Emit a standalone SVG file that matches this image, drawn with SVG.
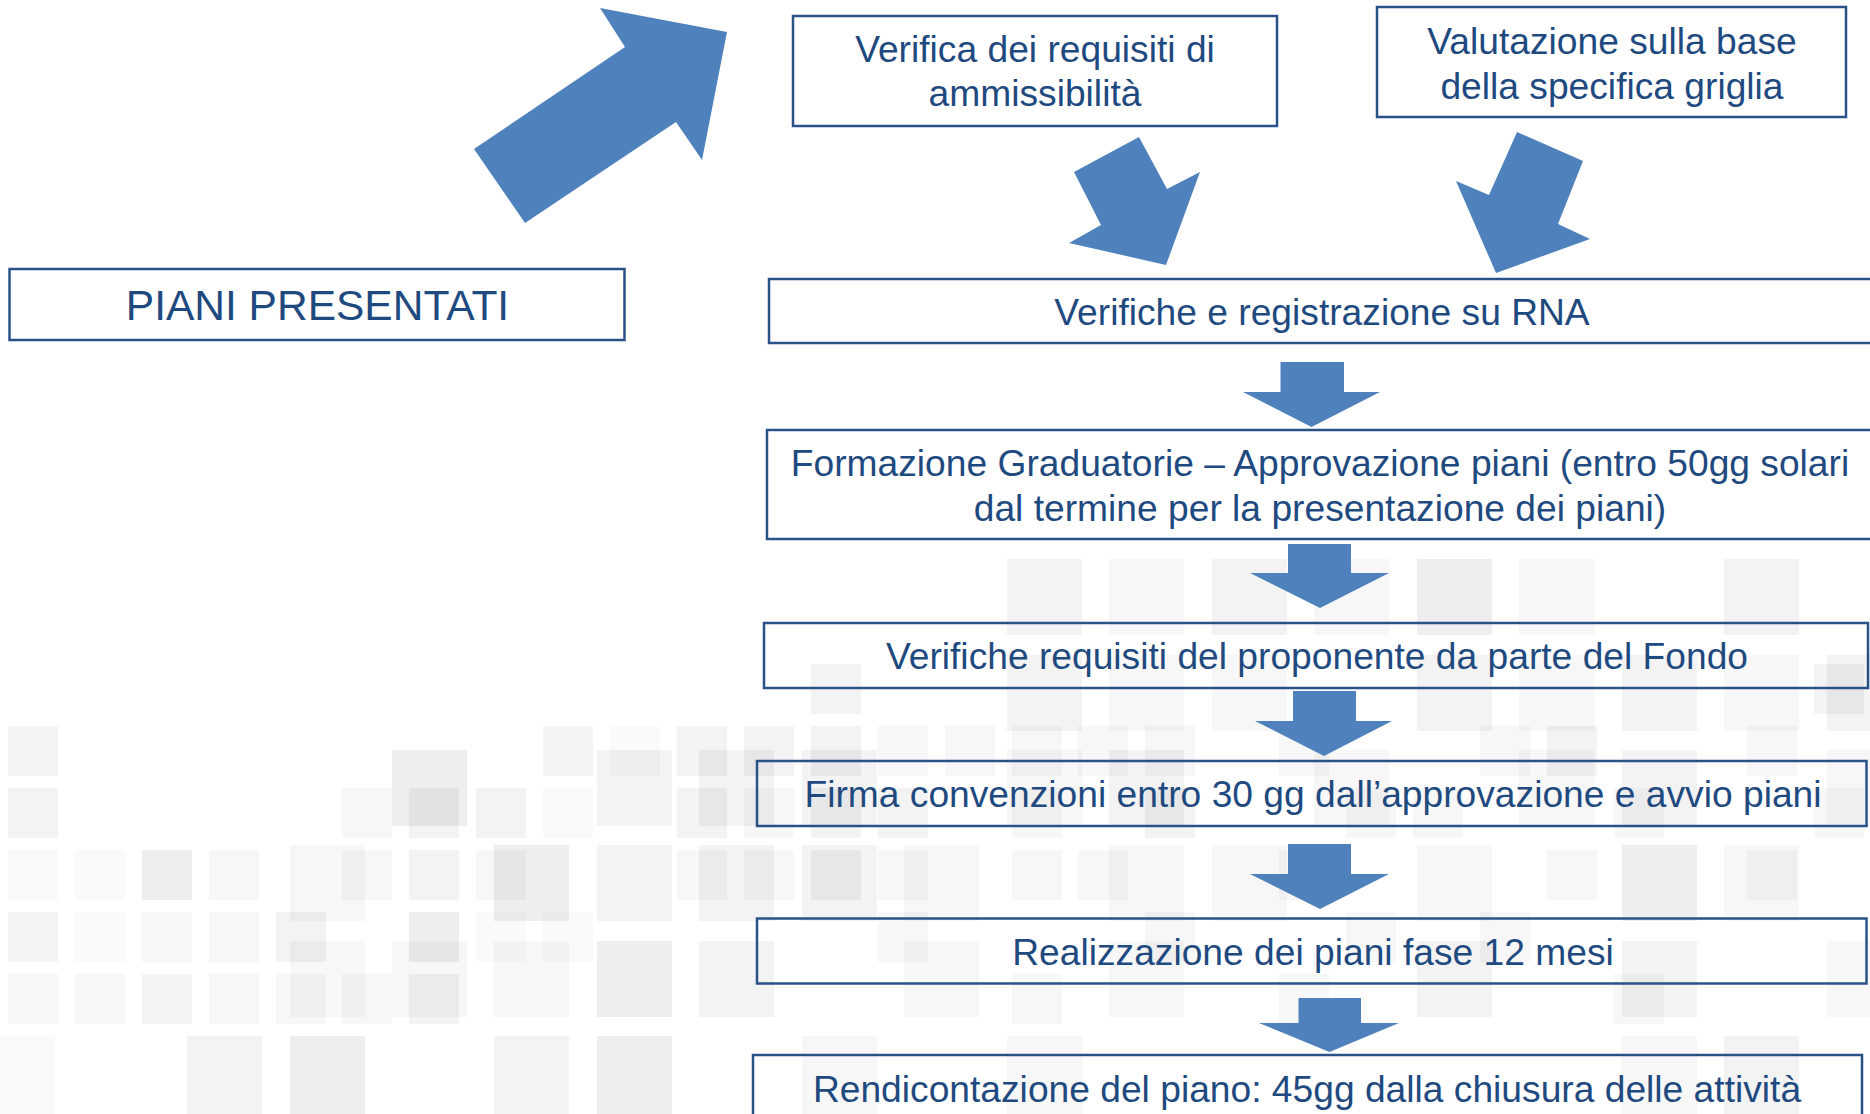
<svg xmlns="http://www.w3.org/2000/svg" width="1870" height="1114" viewBox="0 0 1870 1114">
<defs>
<style>
.bg{fill:#ffffff}
.b1{fill:#000;fill-opacity:.065}
.b2{fill:#000;fill-opacity:.048}
.b3{fill:#000;fill-opacity:.032}
.b4{fill:#000;fill-opacity:.018}
.box{fill:none;stroke:#2A5288;stroke-width:2.5}
.t{font-family:"Liberation Sans",Arial,sans-serif;font-size:37.2px;fill:#1F4A7F;text-anchor:middle}
.tb{font-size:42.5px}
.arr{fill:#4F81BD}
</style>
</defs>
<rect class="bg" x="0" y="0" width="1870" height="1114"/>
<g id="background">
<g id="big">
<rect class="b2" x="1007" y="559" width="75" height="76"/>
<rect class="b3" x="1109" y="559" width="75" height="76"/>
<rect class="b2" x="1212" y="559" width="75" height="76"/>
<rect class="b3" x="1314" y="559" width="75" height="76"/>
<rect class="b1" x="1417" y="559" width="75" height="76"/>
<rect class="b3" x="1519" y="559" width="75" height="76"/>
<rect class="b2" x="1724" y="559" width="75" height="76"/>
<rect class="b2" x="1007" y="655" width="75" height="76"/>
<rect class="b3" x="1109" y="655" width="75" height="76"/>
<rect class="b3" x="1212" y="655" width="75" height="76"/>
<rect class="b2" x="1417" y="655" width="75" height="76"/>
<rect class="b3" x="1519" y="655" width="75" height="76"/>
<rect class="b2" x="1622" y="655" width="75" height="76"/>
<rect class="b3" x="1724" y="655" width="75" height="76"/>
<rect class="b2" x="1827" y="655" width="75" height="76"/>
<rect class="b1" x="392" y="750" width="75" height="76"/>
<rect class="b2" x="597" y="750" width="75" height="76"/>
<rect class="b2" x="699" y="750" width="75" height="76"/>
<rect class="b2" x="802" y="750" width="75" height="76"/>
<rect class="b3" x="1007" y="750" width="75" height="76"/>
<rect class="b2" x="1109" y="750" width="75" height="76"/>
<rect class="b3" x="1314" y="750" width="75" height="76"/>
<rect class="b3" x="1519" y="750" width="75" height="76"/>
<rect class="b2" x="1622" y="750" width="75" height="76"/>
<rect class="b3" x="1827" y="750" width="75" height="76"/>
<rect class="b3" x="290" y="845" width="75" height="76"/>
<rect class="b1" x="494" y="845" width="75" height="76"/>
<rect class="b2" x="597" y="845" width="75" height="76"/>
<rect class="b2" x="699" y="845" width="75" height="76"/>
<rect class="b2" x="802" y="845" width="75" height="76"/>
<rect class="b3" x="904" y="845" width="75" height="76"/>
<rect class="b3" x="1109" y="845" width="75" height="76"/>
<rect class="b3" x="1212" y="845" width="75" height="76"/>
<rect class="b3" x="1417" y="845" width="75" height="76"/>
<rect class="b1" x="1622" y="845" width="75" height="76"/>
<rect class="b3" x="1724" y="845" width="75" height="76"/>
<rect class="b3" x="290" y="941" width="75" height="76"/>
<rect class="b3" x="392" y="941" width="75" height="76"/>
<rect class="b3" x="494" y="941" width="75" height="76"/>
<rect class="b1" x="597" y="941" width="75" height="76"/>
<rect class="b2" x="699" y="941" width="75" height="76"/>
<rect class="b3" x="904" y="941" width="75" height="76"/>
<rect class="b3" x="1109" y="941" width="75" height="76"/>
<rect class="b2" x="1417" y="941" width="75" height="76"/>
<rect class="b2" x="1622" y="941" width="75" height="76"/>
<rect class="b3" x="1827" y="941" width="75" height="76"/>
<rect class="b4" x="0" y="1036" width="55" height="78"/>
<rect class="b2" x="187" y="1036" width="75" height="78"/>
<rect class="b1" x="290" y="1036" width="75" height="78"/>
<rect class="b2" x="494" y="1036" width="75" height="78"/>
<rect class="b1" x="597" y="1036" width="75" height="78"/>
<rect class="b3" x="802" y="1036" width="75" height="78"/>
<rect class="b3" x="1007" y="1036" width="75" height="78"/>
<rect class="b3" x="1622" y="1036" width="75" height="78"/>
<rect class="b2" x="1724" y="1036" width="75" height="78"/>
</g>
<g id="small">
<rect class="b2" x="811" y="664" width="50" height="50"/>
<rect class="b2" x="1814" y="664" width="50" height="50"/>
<rect class="b2" x="8" y="726" width="50" height="50"/>
<rect class="b2" x="543" y="726" width="50" height="50"/>
<rect class="b4" x="610" y="726" width="50" height="50"/>
<rect class="b2" x="677" y="726" width="50" height="50"/>
<rect class="b2" x="744" y="726" width="50" height="50"/>
<rect class="b2" x="811" y="726" width="50" height="50"/>
<rect class="b3" x="878" y="726" width="50" height="50"/>
<rect class="b3" x="945" y="726" width="50" height="50"/>
<rect class="b3" x="1012" y="726" width="50" height="50"/>
<rect class="b3" x="1078" y="726" width="50" height="50"/>
<rect class="b3" x="1145" y="726" width="50" height="50"/>
<rect class="b3" x="1279" y="726" width="50" height="50"/>
<rect class="b3" x="1480" y="726" width="50" height="50"/>
<rect class="b2" x="1547" y="726" width="50" height="50"/>
<rect class="b3" x="1747" y="726" width="50" height="50"/>
<rect class="b2" x="8" y="788" width="50" height="50"/>
<rect class="b3" x="342" y="788" width="50" height="50"/>
<rect class="b2" x="409" y="788" width="50" height="50"/>
<rect class="b2" x="476" y="788" width="50" height="50"/>
<rect class="b4" x="543" y="788" width="50" height="50"/>
<rect class="b2" x="677" y="788" width="50" height="50"/>
<rect class="b3" x="744" y="788" width="50" height="50"/>
<rect class="b2" x="811" y="788" width="50" height="50"/>
<rect class="b2" x="878" y="788" width="50" height="50"/>
<rect class="b3" x="1012" y="788" width="50" height="50"/>
<rect class="b2" x="1145" y="788" width="50" height="50"/>
<rect class="b3" x="1346" y="788" width="50" height="50"/>
<rect class="b3" x="1413" y="788" width="50" height="50"/>
<rect class="b3" x="1614" y="788" width="50" height="50"/>
<rect class="b3" x="1814" y="788" width="50" height="50"/>
<rect class="b4" x="8" y="850" width="50" height="50"/>
<rect class="b4" x="75" y="850" width="50" height="50"/>
<rect class="b1" x="142" y="850" width="50" height="50"/>
<rect class="b3" x="209" y="850" width="50" height="50"/>
<rect class="b3" x="342" y="850" width="50" height="50"/>
<rect class="b2" x="409" y="850" width="50" height="50"/>
<rect class="b3" x="476" y="850" width="50" height="50"/>
<rect class="b3" x="677" y="850" width="50" height="50"/>
<rect class="b3" x="744" y="850" width="50" height="50"/>
<rect class="b2" x="811" y="850" width="50" height="50"/>
<rect class="b3" x="878" y="850" width="50" height="50"/>
<rect class="b3" x="1012" y="850" width="50" height="50"/>
<rect class="b3" x="1078" y="850" width="50" height="50"/>
<rect class="b3" x="1279" y="850" width="50" height="50"/>
<rect class="b3" x="1547" y="850" width="50" height="50"/>
<rect class="b3" x="1747" y="850" width="50" height="50"/>
<rect class="b2" x="8" y="912" width="50" height="50"/>
<rect class="b4" x="75" y="912" width="50" height="50"/>
<rect class="b3" x="142" y="912" width="50" height="50"/>
<rect class="b3" x="209" y="912" width="50" height="50"/>
<rect class="b2" x="276" y="912" width="50" height="50"/>
<rect class="b1" x="409" y="912" width="50" height="50"/>
<rect class="b4" x="476" y="912" width="50" height="50"/>
<rect class="b4" x="543" y="912" width="50" height="50"/>
<rect class="b3" x="878" y="912" width="50" height="50"/>
<rect class="b3" x="1145" y="912" width="50" height="50"/>
<rect class="b3" x="1346" y="912" width="50" height="50"/>
<rect class="b3" x="1480" y="912" width="50" height="50"/>
<rect class="b3" x="8" y="974" width="50" height="50"/>
<rect class="b3" x="75" y="974" width="50" height="50"/>
<rect class="b2" x="142" y="974" width="50" height="50"/>
<rect class="b3" x="209" y="974" width="50" height="50"/>
<rect class="b3" x="276" y="974" width="50" height="50"/>
<rect class="b3" x="342" y="974" width="50" height="50"/>
<rect class="b2" x="409" y="974" width="50" height="50"/>
<rect class="b3" x="1012" y="974" width="50" height="50"/>
<rect class="b3" x="1279" y="974" width="50" height="50"/>
<rect class="b3" x="1614" y="974" width="50" height="50"/>
</g>
</g>
<g id="connectors">
<polygon id="arrow-up" class="arr" points="474,149 625,47 600,8 727,32 702,160 676,122 525,223"/>
<polygon id="arrow-left-down" class="arr" points="1139,137 1167,189 1200,172 1166,265 1069,243 1101,225 1074,172"/>
<polygon id="arrow-right-down" class="arr" points="1517,132 1583,161 1558,224 1590,239 1496,273 1456,181 1489,195"/>
<polygon id="arrow-1" class="arr" points="1280.5,362 1344,362 1344,392 1380,392 1311.5,427 1243,392 1280.5,392"/>
<polygon id="arrow-2" class="arr" points="1288,544 1351,544 1351,573 1389,573 1320,608 1250,573 1288,573"/>
<polygon id="arrow-3" class="arr" points="1293,691 1356,691 1356,721 1392,721 1324,756 1255,721 1293,721"/>
<polygon id="arrow-4" class="arr" points="1288,844 1351,844 1351,874 1389,874 1320,909 1250,874 1288,874"/>
<polygon id="arrow-5" class="arr" points="1298.5,998 1361,998 1361,1023 1399,1023 1329.5,1052 1259,1023 1298.5,1023"/>
</g>
<g id="piani-presentati">
<rect class="box" x="9.5" y="269" width="615" height="71"/>
<text class="t tb" x="317.5" y="320">PIANI PRESENTATI</text>
</g>
<g id="verifica-requisiti">
<rect class="box" x="793" y="16" width="484" height="110"/>
<text class="t" x="1035" y="62">Verifica dei requisiti di</text>
<text class="t" x="1035" y="105.5">ammissibilità</text>
</g>
<g id="valutazione">
<rect class="box" x="1377" y="7" width="469" height="110"/>
<text class="t" x="1612" y="54">Valutazione sulla base</text>
<text class="t" x="1612" y="99">della specifica griglia</text>
</g>
<g id="verifiche-rna">
<rect class="box" x="769" y="279" width="1110" height="64"/>
<text class="t" x="1322" y="325">Verifiche e registrazione su RNA</text>
</g>
<g id="formazione-graduatorie">
<rect class="box" x="767" y="430" width="1110" height="109"/>
<text class="t" x="1320" y="475.5">Formazione Graduatorie – Approvazione piani (entro 50gg solari</text>
<text class="t" x="1320" y="520.5">dal termine per la presentazione dei piani)</text>
</g>
<g id="verifiche-proponente">
<rect class="box" x="764" y="623" width="1104" height="65"/>
<text class="t" x="1317" y="669">Verifiche requisiti del proponente da parte del Fondo</text>
</g>
<g id="firma-convenzioni">
<rect class="box" x="757" y="761" width="1109.5" height="65"/>
<text class="t" x="1313" y="806.5">Firma convenzioni entro 30 gg dall’approvazione e avvio piani</text>
</g>
<g id="realizzazione">
<rect class="box" x="757" y="918.5" width="1109.5" height="65"/>
<text class="t" x="1313" y="964.5">Realizzazione dei piani fase 12 mesi</text>
</g>
<g id="rendicontazione">
<rect class="box" x="753" y="1055" width="1109" height="80"/>
<text class="t" x="1307" y="1101.5">Rendicontazione del piano: 45gg dalla chiusura delle attività</text>
</g>
</svg>
